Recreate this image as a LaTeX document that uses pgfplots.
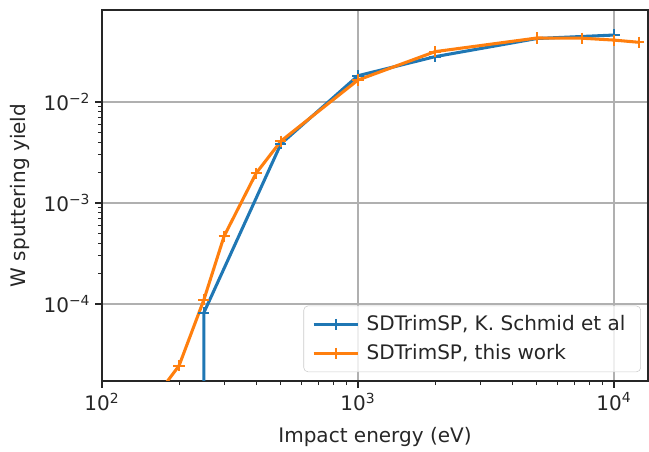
\documentclass[border=0pt]{standalone}
\usepackage{fontspec}
\setmainfont{DejaVu Sans}
\usepackage{pgfplots}
\pgfplotsset{compat=1.18}
\definecolor{cblue}{HTML}{1F77B4}
\definecolor{corange}{HTML}{FF7F0E}
\definecolor{gridgray}{HTML}{B0B0B0}
\begin{document}
\begin{tikzpicture}
\begin{axis}[
  name=ax,
  scale only axis,
  width=393pt, height=267pt,
  xmode=log, ymode=log,
  xmin=100, xmax=13590,
  ymin=1.73e-5, ymax=0.0814,
  xtick={100,1000,10000},
  xticklabels={10\textsuperscript{2},10\textsuperscript{3},10\textsuperscript{4}},
  ytick={1e-4,1e-3,1e-2},
  yticklabels={10\textsuperscript{−4},10\textsuperscript{−3},10\textsuperscript{−2}},
  tick align=outside,
  major tick length=5pt,
  minor tick length=2.9pt,
  tick style={black!85, line width=0.9pt},
  minor tick style={black!85, line width=0.7pt},
  xtick pos=bottom, ytick pos=left,
  grid=major,
  major grid style={gridgray, line width=1.1pt},
  axis line style={black!85, line width=1.1pt},
  tick label style={font=\fontsize{14.4pt}{17pt}\selectfont, text=black!85},
  xlabel={Impact energy (eV)},
  ylabel={W sputtering yield},
  every axis x label/.style={at={(axis description cs:0.5,-0.151)}, anchor=center, font=\fontsize{14.4pt}{17pt}\selectfont, text=black!85},
  every axis y label/.style={at={(axis description cs:-0.150,0.5)}, rotate=90, anchor=center, font=\fontsize{14.4pt}{17pt}\selectfont, text=black!85},
  legend style={at={(axis description cs:0.987,0.024)}, anchor=south east,
    draw=black!20, rounded corners=3pt, fill=white, fill opacity=0.8, text opacity=1,
    font=\fontsize{14.4pt}{17pt}\selectfont, inner xsep=6pt, inner ysep=4.5pt, row sep=3.5pt,
    nodes={inner xsep=5pt, inner ysep=2.5pt, text=black!85}},
  legend cell align=left,
  legend image code/.code={
    \draw[mark repeat=2, mark phase=2] plot coordinates {(0pt,0pt) (16pt,0pt) (32pt,0pt)};
  },
]
\addplot[cblue, line width=2.2pt, mark=+, mark size=4pt, mark options={line width=1.4pt}]
  coordinates {(250,1e-8) (250,8.2e-5) (500,3.85e-3) (1000,1.82e-2) (2000,2.81e-2) (5000,4.25e-2) (10000,4.6e-2)};
\addlegendentry{SDTrimSP, K. Schmid et al}
\addplot[corange, line width=2.2pt, mark=+, mark size=4pt, mark options={line width=1.4pt}]
  coordinates {(150,9.3e-6) (200,2.45e-5) (250,1.1e-4) (300,4.7e-4) (400,1.97e-3) (500,4.1e-3) (1000,1.65e-2) (2000,3.15e-2) (5000,4.3e-2) (7500,4.28e-2) (10000,4.1e-2) (12500,3.9e-2)};
\addlegendentry{SDTrimSP, this work}
\end{axis}
\path ([xshift=-73.4pt,yshift=-49.7pt]ax.south west) rectangle ([xshift=0.7pt,yshift=7.2pt]ax.north east);
\end{tikzpicture}
\end{document}
